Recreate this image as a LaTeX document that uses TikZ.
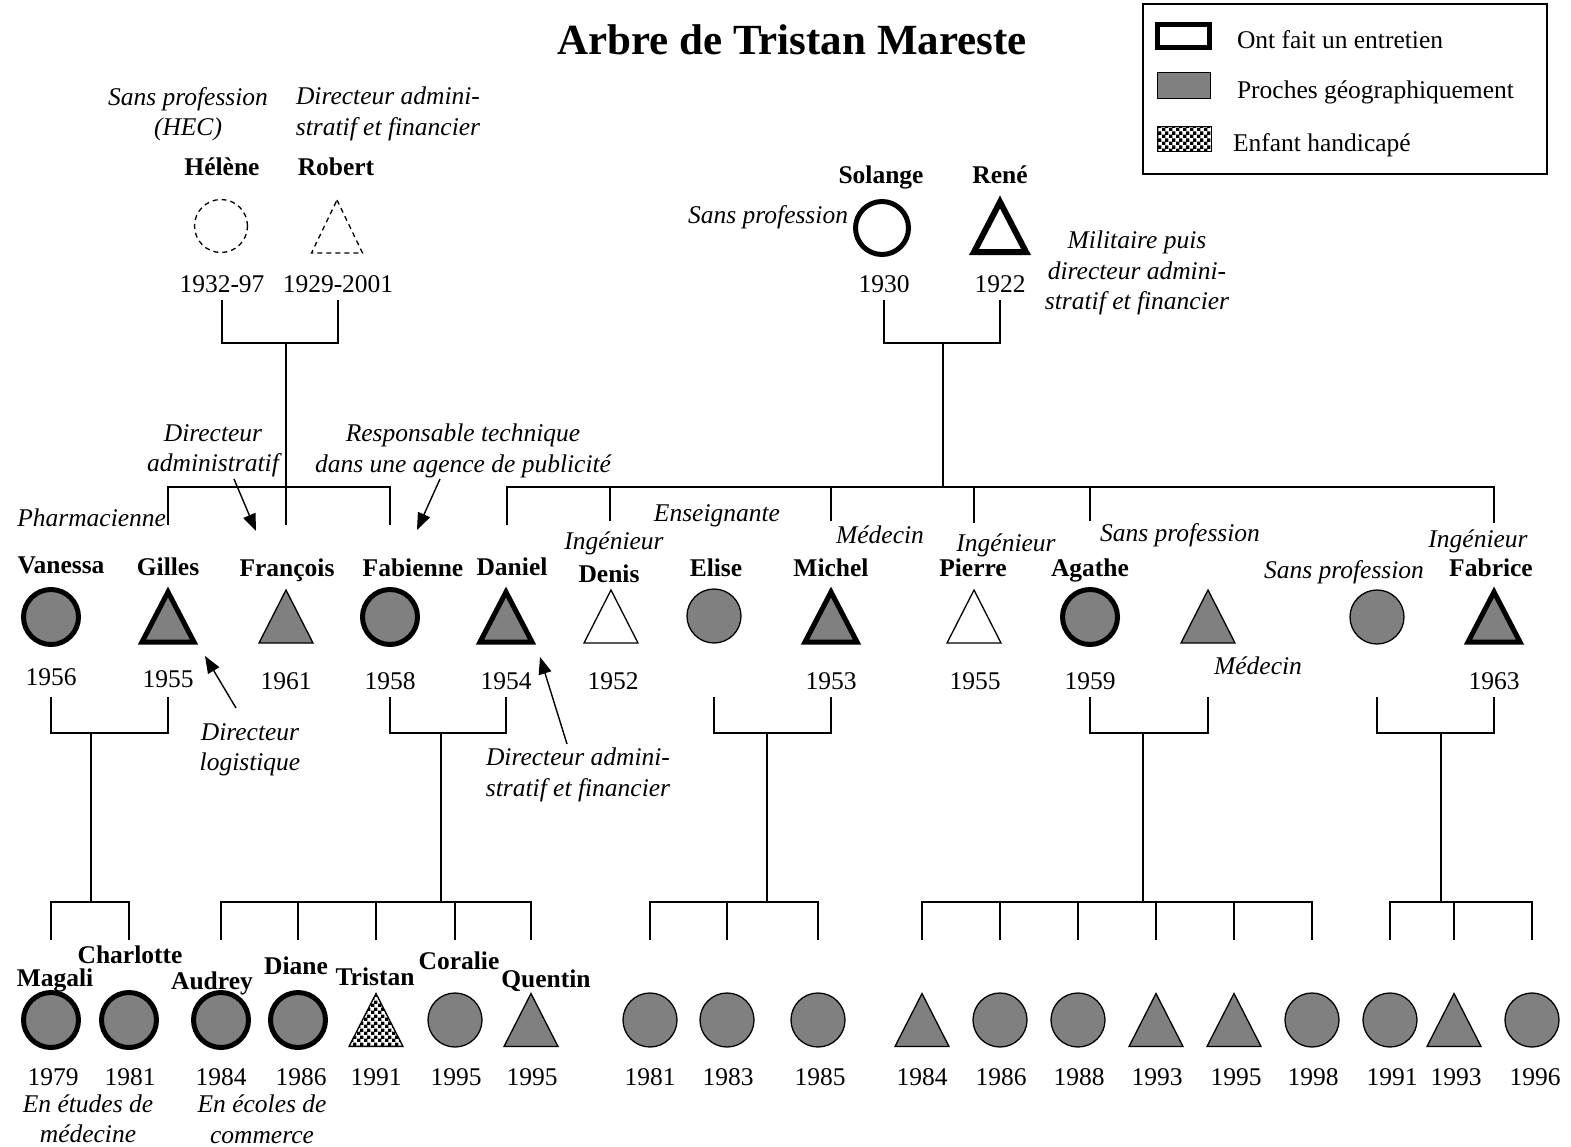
\documentclass[tikz,border=0pt]{standalone}
\usepackage{fontspec}
\setmainfont{Liberation Serif}
\usetikzlibrary{arrows.meta,patterns}
\pgfdeclarepatternformonly{bigcheck}{\pgfpointorigin}{\pgfqpoint{7pt}{7pt}}{\pgfqpoint{7pt}{7pt}}{%
  \pgfpathrectangle{\pgfpointorigin}{\pgfqpoint{3.7pt}{3.7pt}}%
  \pgfpathrectangle{\pgfqpoint{3.5pt}{3.5pt}}{\pgfqpoint{3.7pt}{3.7pt}}%
  \pgfusepath{fill}}
\newcommand\fs{\fontsize{25.5}{30.5}\selectfont}
\newcommand\Tri[5]{\node[#4] (#1) at (#2,#3) {};\draw[#5] (#1.north) -- (#1.south east) -- (#1.south west) -- cycle;}
\begin{document}
\begin{tikzpicture}[x=1pt,y=-1pt,
  every node/.style={inner sep=0pt, outer sep=0pt},
  ln/.style={line width=1.4pt},
  arr/.style={line width=1.4pt, -{Triangle[length=17pt,width=13pt]}},
  txt/.style={font=\fs, text height=17pt, text depth=5.5pt, yshift=-5pt},
  nm/.style={txt, font=\fs\bfseries},
  job/.style={txt, font=\fs\itshape},
  jobm/.style={font=\fs\itshape, align=center, yshift=-3pt},
  pc/.style={circle, draw, fill=gray, line width=1.3pt, minimum size=54pt},
  pck/.style={circle, draw, fill=gray, line width=5pt, minimum size=55pt},
  tsz/.style={minimum width=54pt, minimum height=53pt},
  tszk/.style={minimum width=52pt, minimum height=50pt},
  tg/.style={draw, fill=gray, line width=1.3pt},
  tgk/.style={draw, fill=gray, line width=5pt},
  tw/.style={draw, fill=white, line width=1.3pt},
  chk/.style={draw, line width=1.3pt, preaction={fill=white}, pattern=bigcheck},
  dsh/.style={draw, dash pattern=on 5pt off 4pt, line width=1.3pt}
]
\fill[white] (0,0) rectangle (1571,1146);
\useasboundingbox (0,0) rectangle (1571,1146);

% title
\node[font=\fontsize{43}{50}\selectfont\bfseries] (title) at (792,40) {Arbre de Tristan Mareste};

% legend
\node[draw, line width=1.5pt, minimum width=404pt, minimum height=170pt] (leg) at (1345,89) {};
\node[draw, line width=5pt, minimum width=52pt, minimum height=23pt] (lg1) at (1183.5,36) {};
\node[draw, fill=gray, line width=1pt, minimum width=53pt, minimum height=26pt] (lg2) at (1183.5,85) {};
\node[chk, line width=1pt, minimum width=54pt, minimum height=25pt] (lg3) at (1184,139) {};
\node[txt, anchor=west] (lt1) at (1237,38) {Ont fait un entretien};
\node[txt, anchor=west] (lt2) at (1237,88) {Proches géographiquement};
\node[txt, anchor=west] (lt3) at (1233,141) {Enfant handicapé};

% left grandparents
\node[circle, dsh, minimum size=53pt] (hel) at (221,226) {};
\Tri{rob}{337}{226.5}{tsz, minimum width=51pt}{dsh}
\node[nm] (helN) at (222,165) {Hélène};
\node[nm] (robN) at (336,165) {Robert};
\node[txt] (helD) at (222,282) {1932-97};
\node[txt] (robD) at (338,282) {1929-2001};
\node[jobm] (helJ) at (188,111) {Sans profession\\(HEC)};
\node[jobm] (robJ) at (388,111) {Directeur admini-\\stratif et financier};

% right grandparents
\node[circle, draw, line width=5pt, minimum size=53pt] (sol) at (882,228) {};
\Tri{ren}{1000}{227}{tszk}{draw, line width=6pt}
\node[nm] (solN) at (881,173) {Solange};
\node[nm] (renN) at (1000,173) {René};
\node[txt] (solD) at (884,282) {1930};
\node[txt] (renD) at (1000,282) {1922};
\node[job, anchor=east] (solJ) at (848,213) {Sans profession};
\node[jobm] (renJ) at (1137,270) {Militaire puis\\directeur admini-\\stratif et financier};

% middle generation
\node[pck] (van) at (51,617) {};
\Tri{gil}{168}{617}{tszk}{tgk}
\Tri{fra}{286}{616.5}{tsz}{tg}
\node[pck] (fab) at (390,617) {};
\Tri{dan}{506}{617}{tszk}{tgk}
\Tri{den}{611}{616.5}{tsz}{tw}
\node[pc] (eli) at (714,616) {};
\Tri{mic}{831}{617}{tszk}{tgk}
\Tri{pie}{974}{616.5}{tsz}{tw}
\node[pck] (aga) at (1090,617) {};
\Tri{med}{1208}{616.5}{tsz}{tg}
\node[pc] (spf) at (1377,617) {};
\Tri{fbr}{1494}{617}{tszk}{tgk}

\node[nm] (vanN) at (61,563) {Vanessa};
\node[nm] (gilN) at (168,565) {Gilles};
\node[nm] (fraN) at (287,566) {François};
\node[nm] (fabN) at (413,566) {Fabienne};
\node[nm] (danN) at (512,565) {Daniel};
\node[nm] (denN) at (609,572) {Denis};
\node[nm] (eliN) at (716,566) {Elise};
\node[nm] (micN) at (831,566) {Michel};
\node[nm] (pieN) at (973,566) {Pierre};
\node[nm] (agaN) at (1090,566) {Agathe};
\node[nm] (fbrN) at (1491,566) {Fabrice};

\node[txt] (vanD) at (51,675) {1956};
\node[txt] (gilD) at (168,677) {1955};
\node[txt] (fraD) at (286,679) {1961};
\node[txt] (fabD) at (390,679) {1958};
\node[txt] (danD) at (506,679) {1954};
\node[txt] (denD) at (613,679) {1952};
\node[txt] (micD) at (831,679) {1953};
\node[txt] (pieD) at (975,679) {1955};
\node[txt] (agaD) at (1090,679) {1959};
\node[txt] (fbrD) at (1494,679) {1963};

\node[job, anchor=east] (vanJ) at (166,516) {Pharmacienne};
\node[jobm] (fraJ) at (213,448) {Directeur\\administratif};
\node[jobm] (fabJ) at (463,448) {Responsable technique\\dans une agence de publicité};
\node[job] (denJ) at (614,539) {Ingénieur};
\node[job] (eliJ) at (717,511) {Enseignante};
\node[job] (micJ) at (880,533) {Médecin};
\node[job] (pieJ) at (1006,541) {Ingénieur};
\node[job] (agaJ) at (1180,531) {Sans profession};
\node[job] (medJ) at (1258,664) {Médecin};
\node[job] (spfJ) at (1344,568) {Sans profession};
\node[job] (fbrJ) at (1478,537) {Ingénieur};
\node[jobm] (gilJ) at (250,747) {Directeur\\logistique};
\node[jobm] (danJ) at (578,772) {Directeur admini-\\stratif et financier};

% arrows
\coordinate (a1s) at (234,479); \coordinate (a1e) at (256,531);
\coordinate (a2s) at (440,479); \coordinate (a2e) at (417,530);
\coordinate (a3s) at (236,708); \coordinate (a3e) at (205,656);
\coordinate (a4s) at (567,744); \coordinate (a4e) at (540,657);
\draw[arr] (a1s) -- (a1e);
\draw[arr] (a2s) -- (a2e);
\draw[arr] (a3s) -- (a3e);
\draw[arr] (a4s) -- (a4e);

% grandparents connectors
\coordinate (lgp) at (286,343);
\coordinate (fraTop) at (286,525);
\coordinate (gilTop) at (168,525);
\coordinate (fabTop) at (390,525);
\draw[ln] ([yshift=-2pt]helD.south) |- (lgp) -| ([yshift=-2pt]robD.south);
\draw[ln] (lgp) -- (fraTop);
\draw[ln] (gilTop) -- ++(0,-38) -| (fabTop);

\coordinate (rgp) at (943,343);
\coordinate (rbar) at (943,487);
\coordinate (danTop) at (507,525);
\coordinate (denTop) at (610,521);
\coordinate (micTop) at (831,521);
\coordinate (pieTop) at (974,523);
\coordinate (agaTop) at (1090,521);
\coordinate (fbrTop) at (1494,523);
\draw[ln] ([yshift=-2pt]solD.south) |- (rgp) -| ([yshift=-2pt]renD.south);
\draw[ln] (rgp) -- (rbar);
\draw[ln] (danTop) |- (rbar) -| (fbrTop);
\draw[ln] (denTop) -- (denTop |- rbar);
\draw[ln] (micTop) -- (micTop |- rbar);
\draw[ln] (pieTop) -- (pieTop |- rbar);
\draw[ln] (agaTop) -- (agaTop |- rbar);

% couples of the middle generation
\coordinate (vanB) at (51,697);   \coordinate (gilB) at (168,697);
\coordinate (fabB) at (390,697);  \coordinate (danB) at (506,697);
\coordinate (eliB) at (714,697);  \coordinate (micB) at (831,697);
\coordinate (agaB) at (1090,697); \coordinate (medB) at (1208,697);
\coordinate (spfB) at (1377,697); \coordinate (fbrB) at (1494,697);
\coordinate (j1) at (91,733);   \coordinate (k1) at (91,902);
\coordinate (j2) at (441,733);  \coordinate (k2) at (441,902);
\coordinate (j3) at (767,733);  \coordinate (k3) at (767,902);
\coordinate (j4) at (1143,733); \coordinate (k4) at (1143,902);
\coordinate (j5) at (1441,733); \coordinate (k5) at (1441,902);
\draw[ln] (vanB) |- (j1) -| (gilB);  \draw[ln] (j1) -- (k1);
\draw[ln] (fabB) |- (j2) -| (danB);  \draw[ln] (j2) -- (k2);
\draw[ln] (eliB) |- (j3) -| (micB);  \draw[ln] (j3) -- (k3);
\draw[ln] (agaB) |- (j4) -| (medB);  \draw[ln] (j4) -- (k4);
\draw[ln] (spfB) |- (j5) -| (fbrB);  \draw[ln] (j5) -- (k5);

% children tops
\coordinate (magT) at (51,940);  \coordinate (chaT) at (129,940);
\coordinate (audT) at (221,940); \coordinate (diaT) at (298,940);
\coordinate (triT) at (376,940); \coordinate (corT) at (455,940);
\coordinate (queT) at (531,940);
\coordinate (e1T) at (650,940); \coordinate (e2T) at (727,940); \coordinate (e3T) at (818,940);
\coordinate (g1T) at (922,940); \coordinate (g2T) at (1000,940); \coordinate (g3T) at (1078,940);
\coordinate (g4T) at (1156,940); \coordinate (g5T) at (1234,940); \coordinate (g6T) at (1312,940);
\coordinate (f1T) at (1390,940); \coordinate (f2T) at (1454,940); \coordinate (f3T) at (1532,940);
\draw[ln] (magT) |- (k1) -| (chaT);
\draw[ln] (audT) |- (k2) -| (queT);
\draw[ln] (diaT) -- (diaT |- k2);
\draw[ln] (triT) -- (triT |- k2);
\draw[ln] (corT) -- (corT |- k2);
\draw[ln] (e1T) |- (k3) -| (e3T);
\draw[ln] (e2T) -- (e2T |- k3);
\draw[ln] (g1T) |- (k4) -| (g6T);
\draw[ln] (g2T) -- (g2T |- k4);
\draw[ln] (g3T) -- (g3T |- k4);
\draw[ln] (g4T) -- (g4T |- k4);
\draw[ln] (g5T) -- (g5T |- k4);
\draw[ln] (f1T) |- (k5) -| (f3T);
\draw[ln] (f2T) -- (f2T |- k5);

% youngest generation
\node[pck] (mag) at (51,1020) {};
\node[pck] (cha) at (129,1020) {};
\node[pck] (aud) at (221,1020) {};
\node[pck] (dia) at (298,1020) {};
\Tri{tri}{376}{1020}{tsz}{chk}
\node[pc] (cor) at (455,1020) {};
\Tri{que}{531}{1020}{tsz}{tg}
\node[pc] (e1) at (650,1020) {};
\node[pc] (e2) at (727,1020) {};
\node[pc] (e3) at (818,1020) {};
\Tri{g1}{922}{1020}{tsz}{tg}
\node[pc] (g2) at (1000,1020) {};
\node[pc] (g3) at (1078,1020) {};
\Tri{g4}{1156}{1020}{tsz}{tg}
\Tri{g5}{1234}{1020}{tsz}{tg}
\node[pc] (g6) at (1312,1020) {};
\node[pc] (f1) at (1390,1020) {};
\Tri{f2}{1454}{1020}{tsz}{tg}
\node[pc] (f3) at (1532,1020) {};

\node[nm] (magN) at (55,976) {Magali};
\node[nm] (chaN) at (130,953) {Charlotte};
\node[nm] (audN) at (212,979) {Audrey};
\node[nm] (diaN) at (296,964) {Diane};
\node[nm] (triN) at (375,975) {Tristan};
\node[nm] (corN) at (459,959) {Coralie};
\node[nm] (queN) at (546,977) {Quentin};

\node[txt] (magD) at (53,1075) {1979};
\node[txt] (chaD) at (130,1075) {1981};
\node[txt] (audD) at (221,1075) {1984};
\node[txt] (diaD) at (301,1075) {1986};
\node[txt] (triD) at (376,1075) {1991};
\node[txt] (corD) at (456,1075) {1995};
\node[txt] (queD) at (532,1075) {1995};
\node[txt] (e1D) at (650,1075) {1981};
\node[txt] (e2D) at (728,1075) {1983};
\node[txt] (e3D) at (820,1075) {1985};
\node[txt] (g1D) at (922,1075) {1984};
\node[txt] (g2D) at (1001,1075) {1986};
\node[txt] (g3D) at (1079,1075) {1988};
\node[txt] (g4D) at (1157,1075) {1993};
\node[txt] (g5D) at (1236,1075) {1995};
\node[txt] (g6D) at (1313,1075) {1998};
\node[txt] (f1D) at (1392,1075) {1991};
\node[txt] (f2D) at (1456,1075) {1993};
\node[txt] (f3D) at (1535,1075) {1996};

\node[jobm] (magJ) at (88,1116) {En études de\\médecine};
\node[jobm] (audJ) at (262,1116) {En écoles de\\commerce};
\end{tikzpicture}
\end{document}
